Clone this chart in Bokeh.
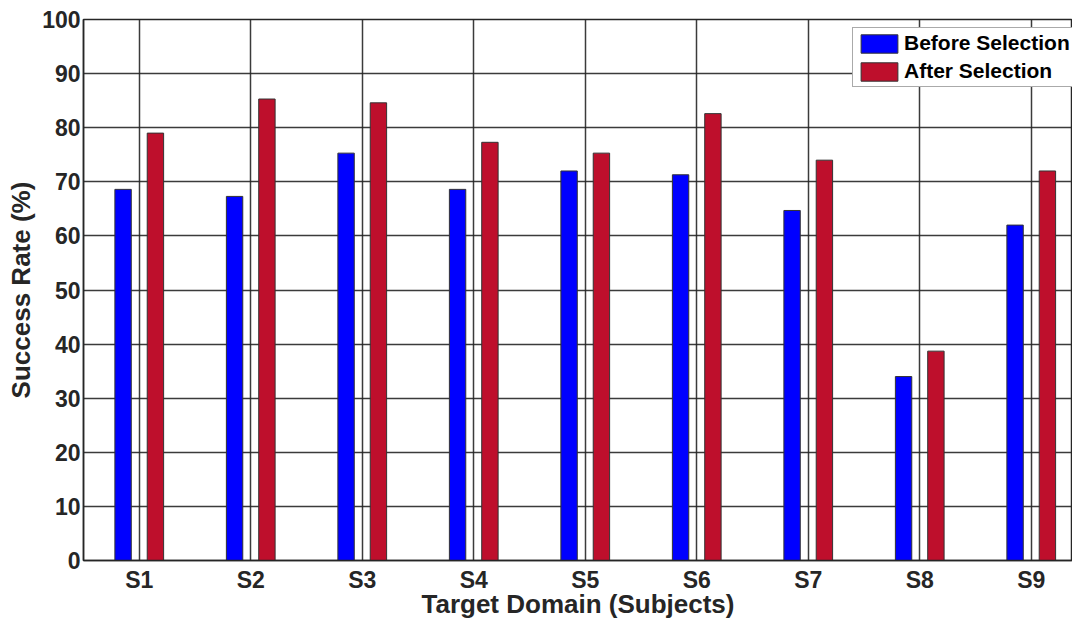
from bokeh.plotting import figure
from bokeh.models import ColumnDataSource, FixedTicker, Range1d, Legend, LegendItem
from bokeh.embed import file_html
from bokeh.resources import INLINE

subjects = ["S1", "S2", "S3", "S4", "S5", "S6", "S7", "S8", "S9"]
before_selection = [68.6, 67.3, 75.3, 68.6, 72.0, 71.3, 64.7, 34.0, 62.0]
after_selection = [79.0, 85.3, 84.6, 77.3, 75.3, 82.6, 74.0, 38.7, 72.0]
y_ticks = [0, 10, 20, 30, 40, 50, 60, 70, 80, 90, 100]

pos = [i + 1 for i in range(len(subjects))]
offset = 0.145
bar_w = 0.147

src = ColumnDataSource(dict(
    xb=[p - offset for p in pos],
    xa=[p + offset for p in pos],
    before=before_selection,
    after=after_selection,
))

FONT = "Liberation Sans"
GRID = "#262626"

p = figure(width=1072, height=623, output_backend="svg", toolbar_location=None,
           x_range=Range1d(0.5, 9.37), y_range=Range1d(0, 100),
           min_border_left=83, min_border_right=0, min_border_top=19, min_border_bottom=63)

rb = p.vbar(x="xb", top="before", width=bar_w, source=src, fill_color="#0000FF",
            line_color="#333333", line_width=1)
ra = p.vbar(x="xa", top="after", width=bar_w, source=src, fill_color="#BE0F2C",
            line_color="#333333", line_width=1)

p.xaxis.ticker = FixedTicker(ticks=pos)
p.xaxis.major_label_overrides = {pp: s for pp, s in zip(pos, subjects)}
p.yaxis.ticker = FixedTicker(ticks=y_ticks)

for ax in (p.xaxis[0], p.yaxis[0]):
    ax.major_label_text_font = FONT
    ax.major_label_text_font_style = "bold"
    ax.major_label_text_font_size = "23px"
    ax.major_label_text_color = "#262626"
    ax.axis_label_text_font = FONT
    ax.axis_label_text_font_style = "bold"
    ax.axis_label_text_font_size = "26px"
    ax.axis_label_text_color = "#262626"
    ax.major_tick_out = 0
    ax.major_tick_in = 0
    ax.minor_tick_out = 0
    ax.minor_tick_in = 0
    ax.axis_line_color = GRID
    ax.axis_line_width = 1.5

p.xaxis.axis_label = "Target Domain (Subjects)"
p.yaxis.axis_label = "Success Rate (%)"
p.xaxis.major_label_standoff = 6
p.xaxis.axis_label_standoff = -7
p.yaxis.major_label_standoff = 3
p.yaxis.axis_label_standoff = 3

p.xgrid.grid_line_color = GRID
p.ygrid.grid_line_color = GRID
p.xgrid.grid_line_width = 1.5
p.ygrid.grid_line_width = 1.5
p.xgrid.grid_line_alpha = 0.9
p.ygrid.grid_line_alpha = 0.9

p.outline_line_color = GRID
p.outline_line_width = 1.5
p.background_fill_color = "white"
p.border_fill_color = "white"

legend = Legend(items=[LegendItem(label="Before Selection", renderers=[rb]),
                       LegendItem(label="After Selection", renderers=[ra])],
                location=(769, 473))
legend.label_text_font = FONT
legend.label_text_font_style = "bold"
legend.label_text_font_size = "21px"
legend.label_text_color = "black"
legend.glyph_width = 46
legend.glyph_height = 23
legend.label_height = 23
legend.label_standoff = 2
legend.spacing = 4
legend.padding = 3
legend.margin = 0
legend.border_line_color = "#555555"
legend.border_line_width = 1
legend.background_fill_color = "white"
legend.background_fill_alpha = 1
p.add_layout(legend)

open("out.html", "w").write(file_html(p, INLINE))
